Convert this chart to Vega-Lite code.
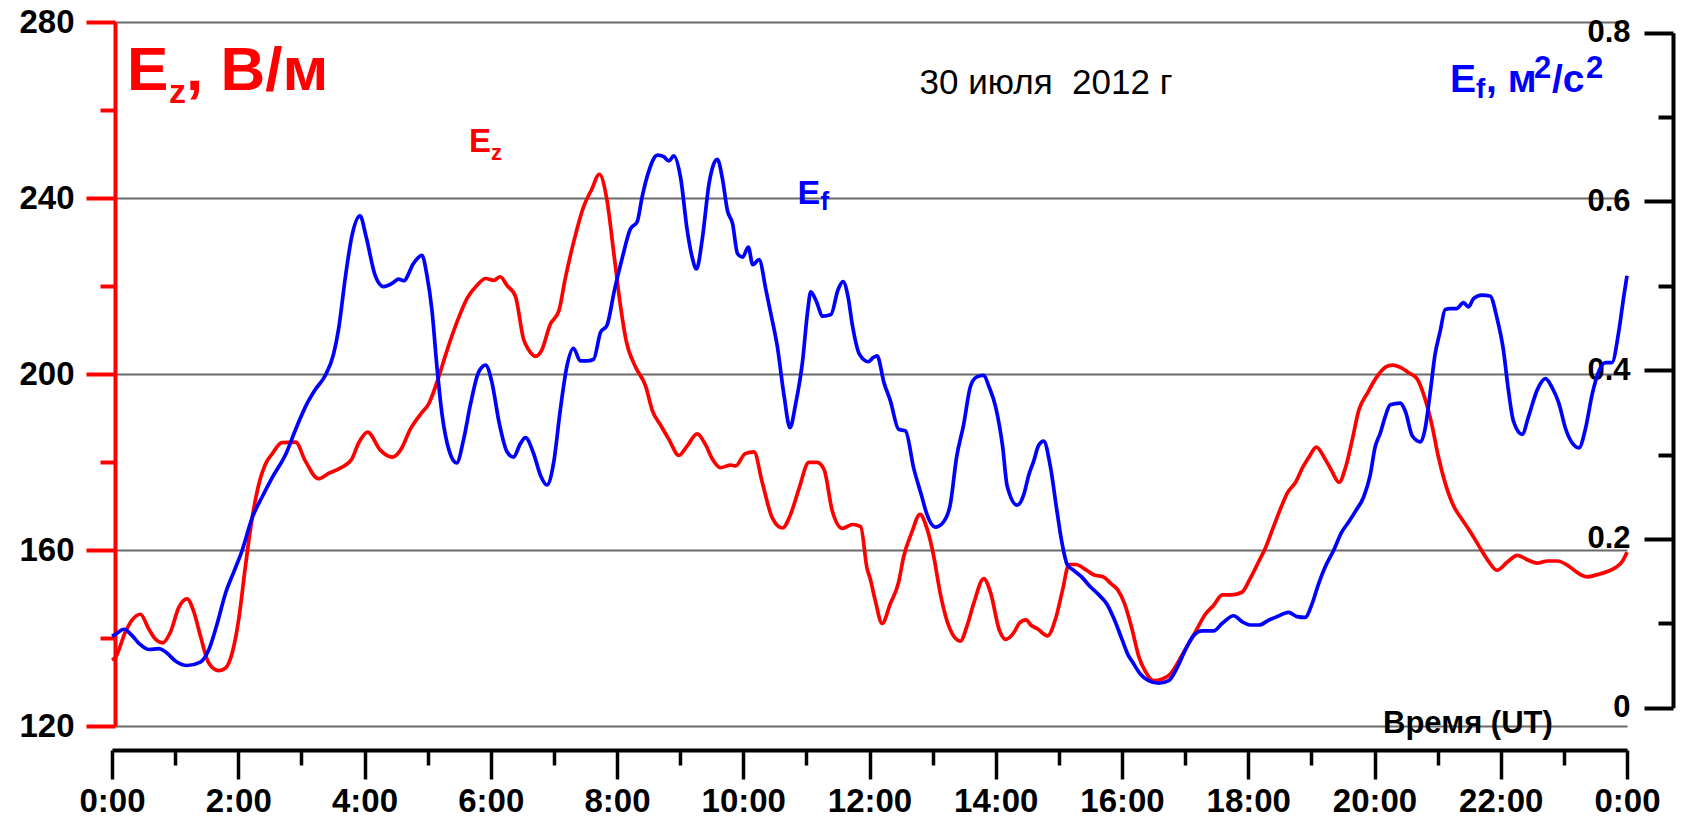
{
  "$schema": "https://vega.github.io/schema/vega-lite/v6.json",
  "width": 1515,
  "height": 704,
  "autosize": {"type": "none"},
  "padding": {"left": 112, "top": 22, "right": 55, "bottom": 103},
  "background": "white",
  "config": {"view": {"stroke": null}, "font": "Liberation Sans", "text": {"font": "Liberation Sans"}},
  "datasets": {
    "ez": [
      {"t": 0.0, "v": 135.0}, {"t": 0.054, "v": 135.6}, {"t": 0.21, "v": 141.3}, {"t": 0.32, "v": 144.1}, {"t": 0.45, "v": 145.4},
      {"t": 0.58, "v": 142.1}, {"t": 0.69, "v": 139.7}, {"t": 0.8, "v": 138.9}, {"t": 0.925, "v": 141.3}, {"t": 1.06, "v": 147.0},
      {"t": 1.19, "v": 148.9}, {"t": 1.29, "v": 146.2}, {"t": 1.4, "v": 140.5}, {"t": 1.53, "v": 134.4}, {"t": 1.69, "v": 132.6},
      {"t": 1.8, "v": 133.2}, {"t": 1.9, "v": 136.4}, {"t": 2.01, "v": 144.5}, {"t": 2.11, "v": 155.9}, {"t": 2.22, "v": 167.3},
      {"t": 2.32, "v": 174.6}, {"t": 2.43, "v": 179.5}, {"t": 2.54, "v": 181.9}, {"t": 2.69, "v": 184.4}, {"t": 2.91, "v": 184.5},
      {"t": 3.06, "v": 180.3}, {"t": 3.27, "v": 176.2}, {"t": 3.43, "v": 177.4}, {"t": 3.64, "v": 178.8}, {"t": 3.8, "v": 180.7},
      {"t": 3.91, "v": 184.4}, {"t": 4.05, "v": 186.8}, {"t": 4.25, "v": 182.7}, {"t": 4.44, "v": 181.1}, {"t": 4.57, "v": 182.7},
      {"t": 4.73, "v": 187.6}, {"t": 4.89, "v": 190.9}, {"t": 5.02, "v": 193.3}, {"t": 5.15, "v": 198.2}, {"t": 5.31, "v": 205.5},
      {"t": 5.47, "v": 212.0}, {"t": 5.63, "v": 217.3}, {"t": 5.78, "v": 220.1}, {"t": 5.92, "v": 221.7}, {"t": 6.05, "v": 221.3},
      {"t": 6.15, "v": 222.1}, {"t": 6.26, "v": 220.1}, {"t": 6.39, "v": 217.7}, {"t": 6.52, "v": 207.9}, {"t": 6.6, "v": 205.5},
      {"t": 6.71, "v": 204.0}, {"t": 6.81, "v": 205.5}, {"t": 6.94, "v": 211.2}, {"t": 7.08, "v": 214.4}, {"t": 7.18, "v": 221.7},
      {"t": 7.31, "v": 229.8}, {"t": 7.47, "v": 238.0}, {"t": 7.6, "v": 242.0}, {"t": 7.72, "v": 245.4}, {"t": 7.84, "v": 239.6},
      {"t": 7.95, "v": 227.4}, {"t": 8.05, "v": 216.0}, {"t": 8.14, "v": 207.9}, {"t": 8.3, "v": 201.4}, {"t": 8.45, "v": 197.4},
      {"t": 8.56, "v": 191.7}, {"t": 8.69, "v": 188.4}, {"t": 8.82, "v": 185.2}, {"t": 8.98, "v": 181.5}, {"t": 9.11, "v": 183.6},
      {"t": 9.27, "v": 186.4}, {"t": 9.4, "v": 184.0}, {"t": 9.51, "v": 180.7}, {"t": 9.64, "v": 178.7}, {"t": 9.8, "v": 179.3},
      {"t": 9.88, "v": 179.1}, {"t": 10.03, "v": 181.9}, {"t": 10.17, "v": 182.3}, {"t": 10.3, "v": 175.4}, {"t": 10.46, "v": 167.3},
      {"t": 10.62, "v": 165.0}, {"t": 10.75, "v": 168.1}, {"t": 10.88, "v": 173.8}, {"t": 11.04, "v": 179.9}, {"t": 11.17, "v": 179.9},
      {"t": 11.28, "v": 178.3}, {"t": 11.41, "v": 168.9}, {"t": 11.57, "v": 164.9}, {"t": 11.73, "v": 165.8}, {"t": 11.86, "v": 165.3},
      {"t": 11.96, "v": 155.9}, {"t": 12.01, "v": 153.5}, {"t": 12.09, "v": 148.6}, {"t": 12.2, "v": 143.3}, {"t": 12.33, "v": 147.8},
      {"t": 12.46, "v": 152.6}, {"t": 12.54, "v": 158.4}, {"t": 12.67, "v": 164.0}, {"t": 12.8, "v": 168.1}, {"t": 12.91, "v": 164.9},
      {"t": 13.02, "v": 158.4}, {"t": 13.12, "v": 150.2}, {"t": 13.23, "v": 143.8}, {"t": 13.33, "v": 140.5}, {"t": 13.44, "v": 139.3},
      {"t": 13.55, "v": 143.0}, {"t": 13.65, "v": 147.8}, {"t": 13.81, "v": 153.5}, {"t": 13.92, "v": 150.2}, {"t": 14.05, "v": 142.1},
      {"t": 14.16, "v": 139.7}, {"t": 14.29, "v": 141.3}, {"t": 14.37, "v": 143.3}, {"t": 14.48, "v": 144.1}, {"t": 14.56, "v": 142.9},
      {"t": 14.66, "v": 142.1}, {"t": 14.82, "v": 140.5}, {"t": 14.95, "v": 144.5}, {"t": 15.06, "v": 151.0}, {"t": 15.16, "v": 156.7},
      {"t": 15.27, "v": 156.7}, {"t": 15.43, "v": 155.5}, {"t": 15.56, "v": 154.3}, {"t": 15.7, "v": 153.9}, {"t": 15.83, "v": 152.3},
      {"t": 15.93, "v": 151.0}, {"t": 16.04, "v": 147.8}, {"t": 16.15, "v": 142.5}, {"t": 16.27, "v": 135.6}, {"t": 16.37, "v": 132.4},
      {"t": 16.5, "v": 130.3}, {"t": 16.64, "v": 130.7}, {"t": 16.77, "v": 131.9}, {"t": 16.9, "v": 134.8}, {"t": 17.03, "v": 138.1},
      {"t": 17.16, "v": 141.3}, {"t": 17.32, "v": 145.4}, {"t": 17.45, "v": 147.4}, {"t": 17.59, "v": 149.8}, {"t": 17.74, "v": 149.8},
      {"t": 17.9, "v": 150.4}, {"t": 18.03, "v": 153.5}, {"t": 18.17, "v": 157.5}, {"t": 18.27, "v": 160.4}, {"t": 18.39, "v": 164.9},
      {"t": 18.52, "v": 169.7}, {"t": 18.62, "v": 173.0}, {"t": 18.75, "v": 175.4}, {"t": 18.86, "v": 178.7}, {"t": 18.96, "v": 181.1},
      {"t": 19.08, "v": 183.4}, {"t": 19.2, "v": 181.1}, {"t": 19.31, "v": 178.3}, {"t": 19.44, "v": 175.4}, {"t": 19.54, "v": 178.7},
      {"t": 19.65, "v": 185.2}, {"t": 19.75, "v": 191.7}, {"t": 19.89, "v": 195.7}, {"t": 20.02, "v": 199.0}, {"t": 20.18, "v": 201.6},
      {"t": 20.28, "v": 202.0}, {"t": 20.41, "v": 201.5}, {"t": 20.54, "v": 200.3}, {"t": 20.67, "v": 199.0}, {"t": 20.8, "v": 194.4},
      {"t": 20.91, "v": 188.4}, {"t": 21.01, "v": 181.3}, {"t": 21.12, "v": 175.2}, {"t": 21.25, "v": 170.1}, {"t": 21.38, "v": 167.1},
      {"t": 21.52, "v": 164.1}, {"t": 21.65, "v": 161.0}, {"t": 21.78, "v": 158.0}, {"t": 21.94, "v": 155.4}, {"t": 22.1, "v": 157.2},
      {"t": 22.26, "v": 158.8}, {"t": 22.42, "v": 157.8}, {"t": 22.58, "v": 157.0}, {"t": 22.74, "v": 157.5}, {"t": 22.9, "v": 157.5},
      {"t": 23.06, "v": 156.5}, {"t": 23.21, "v": 154.9}, {"t": 23.37, "v": 153.9}, {"t": 23.53, "v": 154.4}, {"t": 23.69, "v": 155.1},
      {"t": 23.82, "v": 156.0}, {"t": 23.93, "v": 157.5}, {"t": 24.0, "v": 159.5}
    ],
    "ef": [
      {"t": 0.0, "v": 0.085}, {"t": 0.054, "v": 0.087}, {"t": 0.19, "v": 0.093}, {"t": 0.3, "v": 0.087}, {"t": 0.43, "v": 0.076},
      {"t": 0.58, "v": 0.069}, {"t": 0.74, "v": 0.07}, {"t": 0.85, "v": 0.066}, {"t": 1.01, "v": 0.055}, {"t": 1.19, "v": 0.05},
      {"t": 1.4, "v": 0.054}, {"t": 1.53, "v": 0.068}, {"t": 1.66, "v": 0.098}, {"t": 1.8, "v": 0.136}, {"t": 1.93, "v": 0.161},
      {"t": 2.06, "v": 0.186}, {"t": 2.22, "v": 0.225}, {"t": 2.38, "v": 0.25}, {"t": 2.54, "v": 0.273}, {"t": 2.75, "v": 0.3},
      {"t": 2.91, "v": 0.33}, {"t": 3.06, "v": 0.356}, {"t": 3.22, "v": 0.377}, {"t": 3.38, "v": 0.394}, {"t": 3.51, "v": 0.419},
      {"t": 3.59, "v": 0.449}, {"t": 3.7, "v": 0.512}, {"t": 3.8, "v": 0.559}, {"t": 3.93, "v": 0.583}, {"t": 4.02, "v": 0.56},
      {"t": 4.17, "v": 0.512}, {"t": 4.3, "v": 0.499}, {"t": 4.46, "v": 0.504}, {"t": 4.54, "v": 0.508}, {"t": 4.62, "v": 0.506},
      {"t": 4.78, "v": 0.527}, {"t": 4.91, "v": 0.536}, {"t": 4.99, "v": 0.512}, {"t": 5.07, "v": 0.47}, {"t": 5.15, "v": 0.402},
      {"t": 5.23, "v": 0.347}, {"t": 5.34, "v": 0.305}, {"t": 5.46, "v": 0.29}, {"t": 5.57, "v": 0.318}, {"t": 5.68, "v": 0.36},
      {"t": 5.81, "v": 0.398}, {"t": 5.92, "v": 0.406}, {"t": 6.02, "v": 0.385}, {"t": 6.13, "v": 0.339}, {"t": 6.26, "v": 0.303},
      {"t": 6.36, "v": 0.297}, {"t": 6.47, "v": 0.313}, {"t": 6.55, "v": 0.32}, {"t": 6.68, "v": 0.301}, {"t": 6.79, "v": 0.275},
      {"t": 6.89, "v": 0.264}, {"t": 7.0, "v": 0.292}, {"t": 7.1, "v": 0.352}, {"t": 7.21, "v": 0.406}, {"t": 7.31, "v": 0.426},
      {"t": 7.42, "v": 0.411}, {"t": 7.52, "v": 0.411}, {"t": 7.63, "v": 0.413}, {"t": 7.74, "v": 0.445}, {"t": 7.84, "v": 0.453},
      {"t": 7.96, "v": 0.495}, {"t": 8.08, "v": 0.532}, {"t": 8.21, "v": 0.567}, {"t": 8.32, "v": 0.576}, {"t": 8.4, "v": 0.606},
      {"t": 8.5, "v": 0.635}, {"t": 8.64, "v": 0.655}, {"t": 8.74, "v": 0.653}, {"t": 8.82, "v": 0.648}, {"t": 8.9, "v": 0.654},
      {"t": 9.01, "v": 0.627}, {"t": 9.11, "v": 0.567}, {"t": 9.19, "v": 0.534}, {"t": 9.26, "v": 0.52}, {"t": 9.35, "v": 0.555},
      {"t": 9.46, "v": 0.622}, {"t": 9.53, "v": 0.644}, {"t": 9.59, "v": 0.65}, {"t": 9.67, "v": 0.627}, {"t": 9.75, "v": 0.589},
      {"t": 9.83, "v": 0.574}, {"t": 9.91, "v": 0.538}, {"t": 9.99, "v": 0.534}, {"t": 10.08, "v": 0.546}, {"t": 10.15, "v": 0.525},
      {"t": 10.25, "v": 0.531}, {"t": 10.36, "v": 0.495}, {"t": 10.44, "v": 0.466}, {"t": 10.54, "v": 0.428}, {"t": 10.65, "v": 0.368},
      {"t": 10.74, "v": 0.332}, {"t": 10.83, "v": 0.36}, {"t": 10.94, "v": 0.411}, {"t": 11.02, "v": 0.47}, {"t": 11.07, "v": 0.493},
      {"t": 11.15, "v": 0.483}, {"t": 11.26, "v": 0.464}, {"t": 11.39, "v": 0.466}, {"t": 11.5, "v": 0.495}, {"t": 11.58, "v": 0.505},
      {"t": 11.66, "v": 0.487}, {"t": 11.73, "v": 0.453}, {"t": 11.84, "v": 0.419}, {"t": 11.98, "v": 0.41}, {"t": 12.06, "v": 0.415},
      {"t": 12.12, "v": 0.417}, {"t": 12.23, "v": 0.385}, {"t": 12.33, "v": 0.364}, {"t": 12.46, "v": 0.33}, {"t": 12.57, "v": 0.328},
      {"t": 12.7, "v": 0.284}, {"t": 12.83, "v": 0.25}, {"t": 12.91, "v": 0.229}, {"t": 13.04, "v": 0.214}, {"t": 13.17, "v": 0.22},
      {"t": 13.28, "v": 0.241}, {"t": 13.38, "v": 0.297}, {"t": 13.49, "v": 0.335}, {"t": 13.6, "v": 0.381}, {"t": 13.7, "v": 0.392},
      {"t": 13.81, "v": 0.394}, {"t": 13.89, "v": 0.381}, {"t": 14.0, "v": 0.356}, {"t": 14.11, "v": 0.309}, {"t": 14.18, "v": 0.263},
      {"t": 14.34, "v": 0.24}, {"t": 14.45, "v": 0.254}, {"t": 14.52, "v": 0.275}, {"t": 14.6, "v": 0.292}, {"t": 14.68, "v": 0.311},
      {"t": 14.76, "v": 0.316}, {"t": 14.86, "v": 0.288}, {"t": 14.97, "v": 0.233}, {"t": 15.05, "v": 0.195}, {"t": 15.13, "v": 0.17},
      {"t": 15.23, "v": 0.163}, {"t": 15.36, "v": 0.155}, {"t": 15.49, "v": 0.144}, {"t": 15.63, "v": 0.134}, {"t": 15.76, "v": 0.123},
      {"t": 15.87, "v": 0.106}, {"t": 16.0, "v": 0.081}, {"t": 16.1, "v": 0.062}, {"t": 16.16, "v": 0.055}, {"t": 16.29, "v": 0.04},
      {"t": 16.42, "v": 0.032}, {"t": 16.58, "v": 0.029}, {"t": 16.74, "v": 0.032}, {"t": 16.87, "v": 0.047}, {"t": 17.0, "v": 0.068},
      {"t": 17.13, "v": 0.085}, {"t": 17.27, "v": 0.091}, {"t": 17.45, "v": 0.091}, {"t": 17.59, "v": 0.1}, {"t": 17.77, "v": 0.109},
      {"t": 17.9, "v": 0.102}, {"t": 18.03, "v": 0.098}, {"t": 18.17, "v": 0.098}, {"t": 18.33, "v": 0.104}, {"t": 18.46, "v": 0.108},
      {"t": 18.64, "v": 0.113}, {"t": 18.77, "v": 0.108}, {"t": 18.9, "v": 0.107}, {"t": 19.01, "v": 0.123}, {"t": 19.11, "v": 0.146},
      {"t": 19.22, "v": 0.167}, {"t": 19.35, "v": 0.186}, {"t": 19.48, "v": 0.208}, {"t": 19.59, "v": 0.22}, {"t": 19.7, "v": 0.233},
      {"t": 19.83, "v": 0.25}, {"t": 19.93, "v": 0.275}, {"t": 20.01, "v": 0.309}, {"t": 20.09, "v": 0.325}, {"t": 20.17, "v": 0.345},
      {"t": 20.25, "v": 0.359}, {"t": 20.41, "v": 0.361}, {"t": 20.49, "v": 0.351}, {"t": 20.6, "v": 0.322}, {"t": 20.73, "v": 0.315},
      {"t": 20.8, "v": 0.33}, {"t": 20.88, "v": 0.372}, {"t": 20.96, "v": 0.419}, {"t": 21.04, "v": 0.446}, {"t": 21.12, "v": 0.472},
      {"t": 21.2, "v": 0.473}, {"t": 21.3, "v": 0.473}, {"t": 21.41, "v": 0.48}, {"t": 21.49, "v": 0.475}, {"t": 21.57, "v": 0.485},
      {"t": 21.7, "v": 0.489}, {"t": 21.83, "v": 0.488}, {"t": 21.94, "v": 0.462}, {"t": 22.04, "v": 0.425}, {"t": 22.12, "v": 0.377},
      {"t": 22.2, "v": 0.34}, {"t": 22.34, "v": 0.324}, {"t": 22.44, "v": 0.345}, {"t": 22.58, "v": 0.377}, {"t": 22.71, "v": 0.39},
      {"t": 22.81, "v": 0.38}, {"t": 22.92, "v": 0.361}, {"t": 23.03, "v": 0.33}, {"t": 23.13, "v": 0.314}, {"t": 23.24, "v": 0.308},
      {"t": 23.34, "v": 0.33}, {"t": 23.45, "v": 0.372}, {"t": 23.55, "v": 0.398}, {"t": 23.66, "v": 0.409}, {"t": 23.76, "v": 0.409},
      {"t": 23.87, "v": 0.446}, {"t": 23.95, "v": 0.488}, {"t": 24.0, "v": 0.512}
    ]
  },
  "layer": [
    {
      "layer": [
        {
          "data": {"name": "ez"},
          "mark": {"type": "line", "color": "#ff0000", "strokeWidth": 3.7, "interpolate": "monotone", "clip": false},
          "encoding": {
            "x": {
              "field": "t", "type": "quantitative",
              "scale": {"domain": [0, 24], "nice": false, "zero": false},
              "axis": {
                "title": null, "offset": 24, "grid": false,
                "values": [0,1,2,3,4,5,6,7,8,9,10,11,12,13,14,15,16,17,18,19,20,21,22,23,24],
                "domainColor": "#000000", "domainWidth": 4,
                "tickColor": "#000000", "tickWidth": 3.5,
                "tickSize": {"condition": {"test": "datum.value % 2 === 0", "value": 29}, "value": 15},
                "labelExpr": "datum.value % 2 === 0 ? (datum.value % 24) + ':00' : ''",
                "labelFont": "Liberation Sans", "labelFontWeight": "bold", "labelFontSize": 33,
                "labelColor": "#000000", "labelPadding": 6, "labelFlush": false, "labelOverlap": false
              }
            },
            "y": {
              "field": "v", "type": "quantitative",
              "scale": {"domain": [120, 280], "nice": false, "zero": false},
              "axis": {
                "orient": "left", "title": null, "offset": -3,
                "values": [120,140,160,180,200,220,240,260,280],
                "domainColor": "#ff0000", "domainWidth": 4,
                "tickColor": "#ff0000", "tickWidth": 4,
                "tickSize": {"condition": {"test": "datum.value % 40 === 0", "value": 29}, "value": 15},
                "labelExpr": "datum.value % 40 === 0 ? datum.label : ''",
                "labelFont": "Liberation Sans", "labelFontWeight": "bold", "labelFontSize": 33,
                "labelColor": "#000000", "labelPadding": 12, "labelFlush": false, "labelOverlap": false,
                "grid": true, "gridColor": "#6a6a6a", "gridWidth": 2,
                "gridOpacity": {"condition": {"test": "datum.value % 40 === 0", "value": 1}, "value": 0}
              }
            }
          }
        },
        {"data": {"values": [{}]}, "mark": {"type": "text", "text": "E", "align": "left", "baseline": "alphabetic", "fontSize": 62, "fontWeight": "bold", "color": "#ff0000"}, "encoding": {"x": {"datum": 0.2376}, "y": {"datum": 264.55}}},
        {"data": {"values": [{}]}, "mark": {"type": "text", "text": "z", "align": "left", "baseline": "alphabetic", "fontSize": 34, "fontWeight": "bold", "color": "#ff0000", "dx": 42, "dy": 13}, "encoding": {"x": {"datum": 0.2376}, "y": {"datum": 264.55}}},
        {"data": {"values": [{}]}, "mark": {"type": "text", "text": ", В/м", "align": "left", "baseline": "alphabetic", "fontSize": 62, "fontWeight": "bold", "color": "#ff0000", "dx": 59}, "encoding": {"x": {"datum": 0.2376}, "y": {"datum": 264.55}}},
        {"data": {"values": [{}]}, "mark": {"type": "text", "text": "30 июля\u00a0 2012 г", "align": "center", "baseline": "alphabetic", "fontSize": 35, "color": "#000000"}, "encoding": {"x": {"datum": 14.796}, "y": {"datum": 263.64}}},
        {"data": {"values": [{}]}, "mark": {"type": "text", "text": "E", "align": "left", "baseline": "alphabetic", "fontSize": 33, "fontWeight": "bold", "color": "#ff0000"}, "encoding": {"x": {"datum": 5.655}, "y": {"datum": 250.45}}},
        {"data": {"values": [{}]}, "mark": {"type": "text", "text": "z", "align": "left", "baseline": "alphabetic", "fontSize": 22, "fontWeight": "bold", "color": "#ff0000", "dx": 22, "dy": 8}, "encoding": {"x": {"datum": 5.655}, "y": {"datum": 250.45}}},
        {"data": {"values": [{}]}, "mark": {"type": "text", "text": "E", "align": "left", "baseline": "alphabetic", "fontSize": 34, "fontWeight": "bold", "color": "#0000ff"}, "encoding": {"x": {"datum": 10.86}, "y": {"datum": 238.64}}},
        {"data": {"values": [{}]}, "mark": {"type": "text", "text": "f", "align": "left", "baseline": "alphabetic", "fontSize": 26, "fontWeight": "bold", "color": "#0000ff", "dx": 23, "dy": 6}, "encoding": {"x": {"datum": 10.86}, "y": {"datum": 238.64}}},
        {"data": {"values": [{}]}, "mark": {"type": "text", "text": "E", "align": "left", "baseline": "alphabetic", "fontSize": 39, "fontWeight": "bold", "color": "#0000ff"}, "encoding": {"x": {"datum": 21.196}, "y": {"datum": 264.09}}},
        {"data": {"values": [{}]}, "mark": {"type": "text", "text": "f", "align": "left", "baseline": "alphabetic", "fontSize": 28, "fontWeight": "bold", "color": "#0000ff", "dx": 26, "dy": 6}, "encoding": {"x": {"datum": 21.196}, "y": {"datum": 264.09}}},
        {"data": {"values": [{}]}, "mark": {"type": "text", "text": ", м", "align": "left", "baseline": "alphabetic", "fontSize": 39, "fontWeight": "bold", "color": "#0000ff", "dx": 36}, "encoding": {"x": {"datum": 21.196}, "y": {"datum": 264.09}}},
        {"data": {"values": [{}]}, "mark": {"type": "text", "text": "2", "align": "left", "baseline": "alphabetic", "fontSize": 31, "fontWeight": "bold", "color": "#0000ff", "dx": 84, "dy": -14}, "encoding": {"x": {"datum": 21.196}, "y": {"datum": 264.09}}},
        {"data": {"values": [{}]}, "mark": {"type": "text", "text": "/с", "align": "left", "baseline": "alphabetic", "fontSize": 39, "fontWeight": "bold", "color": "#0000ff", "dx": 102}, "encoding": {"x": {"datum": 21.196}, "y": {"datum": 264.09}}},
        {"data": {"values": [{}]}, "mark": {"type": "text", "text": "2", "align": "left", "baseline": "alphabetic", "fontSize": 31, "fontWeight": "bold", "color": "#0000ff", "dx": 136, "dy": -14}, "encoding": {"x": {"datum": 21.196}, "y": {"datum": 264.09}}},
        {"data": {"values": [{}]}, "mark": {"type": "text", "text": "Время (UT)", "align": "center", "baseline": "alphabetic", "fontSize": 31, "fontWeight": "bold", "color": "#000000"}, "encoding": {"x": {"datum": 21.48}, "y": {"datum": 118.4}}}
      ]
    },
    {
      "data": {"name": "ef"},
      "mark": {"type": "line", "color": "#0000ff", "strokeWidth": 3.7, "interpolate": "monotone", "clip": false},
      "encoding": {
        "x": {"field": "t", "type": "quantitative"},
        "y": {
          "field": "v", "type": "quantitative",
          "scale": {"domain": [0, 0.8], "range": [685.7, 10.7], "nice": false, "zero": false},
          "axis": {
            "orient": "left", "offset": -1561, "title": null, "grid": false,
            "values": [0, 0.1, 0.2, 0.3, 0.4, 0.5, 0.6, 0.7, 0.8],
            "domainColor": "#000000", "domainWidth": 4,
            "tickColor": "#000000", "tickWidth": 4,
            "tickSize": {"condition": {"test": "round(datum.value * 10) % 2 === 0", "value": 29}, "value": 15},
            "labelExpr": "round(datum.value * 10) % 2 !== 0 ? '' : (datum.value === 0 ? '0' : format(datum.value, '.1f'))",
            "labelFont": "Liberation Sans", "labelFontWeight": "bold", "labelFontSize": 31,
            "labelColor": "#000000", "labelPadding": 14, "labelFlush": false, "labelOverlap": false
          }
        }
      }
    }
  ],
  "resolve": {"scale": {"y": "independent"}, "axis": {"y": "independent"}}
}
